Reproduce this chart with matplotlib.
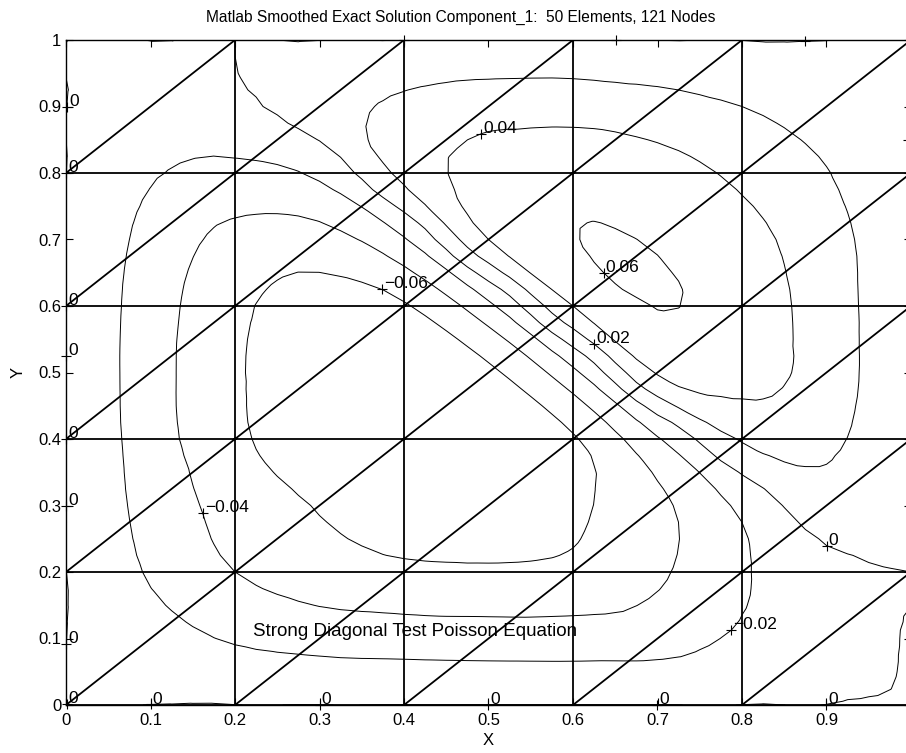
import numpy as np
import matplotlib
matplotlib.use('Agg')
import matplotlib.pyplot as plt
import matplotlib.tri as mtri
from matplotlib.ticker import FormatStrFormatter

plt.rc('font', family='Liberation Sans', size=12)

# nodal values of component 1 on the 11 x 11 node grid
# rows run y = 0.0 ... 1.0, columns run x = 0.0 ... 1.0
u_y00 = [0.0001, 0.0001, 0.0001, 0.0001, 0.0001, 0.0001, 0.0001, 0.0001, 0.0001, 0.0001, 0.002]
u_y01 = [0.0001, -0.012, -0.022, -0.027, -0.029, -0.030, -0.030, -0.028, -0.017, -0.007, 0.001]
u_y02 = [0.0001, -0.022, -0.040, -0.052, -0.057, -0.058, -0.056, -0.043, -0.022, -0.006, 0.0]
u_y03 = [0.0001, -0.027, -0.048, -0.061, -0.066, -0.067, -0.063, -0.045, -0.016, 0.012, -0.0001]
u_y04 = [0.0001, -0.030, -0.057, -0.066, -0.068, -0.068, -0.062, -0.022, 0.022, 0.024, -0.0001]
u_y05 = [0.0001, -0.031, -0.058, -0.069, -0.070, -0.064, -0.025, 0.042, 0.048, 0.031, -0.0001]
u_y06 = [0.0001, -0.030, -0.056, -0.068, -0.062, -0.025, 0.040, 0.0605, 0.050, 0.031, -0.0001]
u_y07 = [0.0001, -0.026, -0.046, -0.048, -0.022, 0.040, 0.0595, 0.0585, 0.046, 0.029, -0.0001]
u_y08 = [0.0001, -0.018, -0.025, -0.016, 0.026, 0.048, 0.051, 0.048, 0.036, 0.021, -0.0001]
u_y09 = [0.0001, -0.008, -0.004, 0.011, 0.024, 0.032, 0.033, 0.028, 0.020, 0.010, -0.0001]
u_y10 = [0.0001, 0.0001, 0.0, -0.0001, -0.0001, -0.0001, -0.0001, -0.0001, -0.0001, -0.0001, -0.0001]

levels = [-0.06, -0.04, -0.02, 0.0, 0.02, 0.04, 0.06]

# (level, x, y) where clabel put a '+' and its value
labels = [(0.04, 0.486, 0.854), (0.06, 0.628, 0.654), (-0.06, 0.369, 0.621),
          (0.02, 0.628, 0.553), (-0.04, 0.162, 0.286), (0.0, 0.908, 0.230),
          (-0.02, 0.788, 0.110),
          (0.0, 0.0, 0.905), (0.0, 0.0, 0.80), (0.0, 0.0, 0.60), (0.0, 0.0, 0.526),
          (0.0, 0.0, 0.40), (0.0, 0.0, 0.293), (0.0, 0.0, 0.078), (0.0, 0.0, 0.0),
          (0.0, 0.1, 0.0), (0.0, 0.3, 0.0), (0.0, 0.5, 0.0), (0.0, 0.709, 0.0),
          (0.0, 0.898, 0.0)]
# '+' marks whose text falls outside the frame
marks_only = [(0.0, 0.389, 1.0), (0.0, 0.667, 1.0), (0.0, 0.869, 1.0),
              (0.0, 1.0, 0.928), (0.0, 1.0, 0.842), (0.0, 1.0, 0.612), (0.0, 1.0, 0.334)]

n = 11
xs = np.linspace(0, 1, n)
X, Y = np.meshgrid(xs, xs)
U = np.array([u_y00, u_y01, u_y02, u_y03, u_y04, u_y05, u_y06, u_y07, u_y08, u_y09, u_y10])

# field triangulation on all 121 nodes; the two corner cells on the
# main diagonal are cut the other way so no triangle has only edge nodes
tris = []
for j in range(n - 1):
    for i in range(n - 1):
        a = j * n + i
        if (i, j) in [(0, 0), (n - 2, n - 2)]:
            tris.append([a, a + 1, a + n + 1])
            tris.append([a, a + n + 1, a + n])
        else:
            tris.append([a, a + 1, a + n])
            tris.append([a + 1, a + n + 1, a + n])
field = mtri.Triangulation(X.ravel(), Y.ravel(), tris)
interp = mtri.CubicTriInterpolator(field, U.ravel(), kind='geom')
fine, fine_u = mtri.UniformTriRefiner(field).refine_field(U.ravel(), triinterpolator=interp, subdiv=2)

# element mesh: 5 x 5 squares, each cut along its lower-left to upper-right diagonal
m = 6
cx = np.linspace(0, 1, m)
CX, CY = np.meshgrid(cx, cx)
elems = []
for j in range(m - 1):
    for i in range(m - 1):
        a = j * m + i
        elems.append([a, a + 1, a + m + 1])
        elems.append([a, a + m + 1, a + m])
mesh = mtri.Triangulation(CX.ravel(), CY.ravel(), elems)

fig = plt.figure(figsize=(9.06, 7.53), dpi=100)
ax = fig.add_axes([66 / 906, 48 / 753, 845 / 906, 665 / 753])

ax.triplot(mesh, color='k', lw=1.3)
cs = ax.tricontour(fine, fine_u, levels=levels, colors='k', linewidths=0.7,
                   negative_linestyles='solid')

def snap(lev, x, y):
    verts = cs.get_paths()[levels.index(lev)].vertices
    k = np.argmin((verts[:, 0] - x) ** 2 + (verts[:, 1] - y) ** 2)
    return verts[k]

for lev, x, y in labels:
    px, py = snap(lev, x, y)
    ax.plot(px, py, '+', color='k', ms=7, mew=0.8, clip_on=False)
    ax.annotate(('%g' % lev).replace('-', '\u2212'), (px, py), xytext=(1.5, -1.5),
                textcoords='offset points', ha='left', va='bottom', fontsize=12.5)
for lev, x, y in marks_only:
    px, py = snap(lev, x, y)
    ax.plot(px, py, '+', color='k', ms=7, mew=0.8, clip_on=False)

ax.text(0.221, 0.11, 'Strong Diagonal Test Poisson Equation', ha='left', va='center', fontsize=13.5)

ax.set_xlim(0, 1)
ax.set_ylim(0, 1)
ax.set_xticks(np.arange(0, 1.01, 0.1))
ax.set_yticks(np.arange(0, 1.01, 0.1))
ax.xaxis.set_major_formatter(FormatStrFormatter('%g'))
ax.yaxis.set_major_formatter(FormatStrFormatter('%g'))
ax.tick_params(direction='in', top=True, right=True, length=5, width=0.8, labelsize=12)
ax.tick_params(axis='x', pad=5.5)
for s in ax.spines.values():
    s.set_linewidth(1.0)

ax.text(-0.057, 0.5, 'Y', rotation=90, ha='center', va='center', transform=ax.transAxes, fontsize=12)
ax.text(0.5, -0.053, 'X', ha='center', va='center', transform=ax.transAxes, fontsize=12)
fig.text(461 / 906, 1 - 17 / 753, 'Matlab Smoothed Exact Solution Component_1:  50 Elements, 121 Nodes',
         ha='center', va='center', fontsize=11.2)

fig.savefig('out.png', dpi=100)
